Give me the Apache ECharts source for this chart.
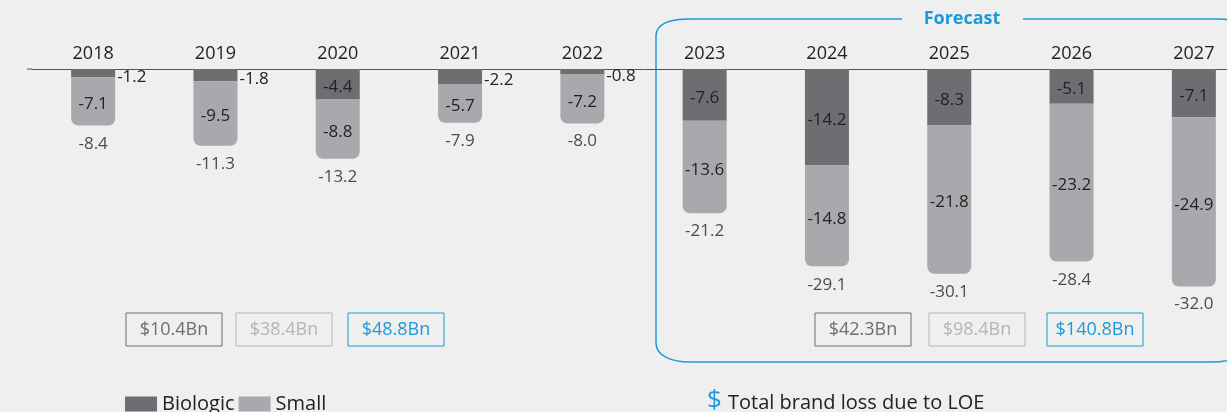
<!DOCTYPE html>
<html>
<head>
<meta charset="utf-8">
<title>Brand loss due to LOE</title>
<script src="https://cdn.jsdelivr.net/npm/echarts@6/dist/echarts.min.js"></script>
<style>
  html, body { margin: 0; padding: 0; background: #efefef; overflow: hidden; }
  /* the plot runs past the right edge of the window, as in the source image */
  #loe_chart { width: 1260px; height: 412px; }
</style>
</head>
<body>
<div id="loe_chart"></div>
<script>
// LOE brand loss by year, biologic vs small molecule ($Bn)
var years = ['2018', '2019', '2020', '2021', '2022', '2023', '2024', '2025', '2026', '2027'];
var biologic = [-1.2, -1.8, -4.4, -2.2, -0.8, -7.6, -14.2, -8.3, -5.1, -7.1];
var small = [-7.1, -9.5, -8.8, -5.7, -7.2, -13.6, -14.8, -21.8, -23.2, -24.9];
var totals = [-8.4, -11.3, -13.2, -7.9, -8.0, -21.2, -29.1, -30.1, -28.4, -32.0];
var pastSums = ['$10.4Bn', '$38.4Bn', '$48.8Bn'];
var forecastSums = ['$42.3Bn', '$98.4Bn', '$140.8Bn'];

var FONT = 'Open Sans';
var BIO = '#6d6e71';
var SMALL = '#a7a9ac';
var BLUE = '#1b9ad7';

// sum boxes: biologic / small / total
function sumBox(cx, txt, color) {
    return {
        type: 'group',
        children: [
            {
                type: 'rect',
                shape: { x: cx - 48, y: 313, width: 96, height: 33 },
                style: { fill: 'none', stroke: color, lineWidth: 1 }
            },
            {
                type: 'text',
                x: cx, y: 330,
                style: {
                    text: txt, fill: color, font: '18px ' + FONT,
                    align: 'center', verticalAlign: 'middle'
                }
            }
        ]
    };
}
var boxColors = [BIO, '#b4b5b7', BLUE];
var graphics = [];
[174, 284, 396].forEach(function (cx, i) { graphics.push(sumBox(cx, pastSums[i], boxColors[i])); });
[863, 977, 1095].forEach(function (cx, i) { graphics.push(sumBox(cx, forecastSums[i], boxColors[i])); });

// forecast frame, built from straight pieces and corner curves
var frameStyle = { fill: 'none', stroke: BLUE, lineWidth: 1.5 };
function seg(x1, y1, x2, y2) {
    return { type: 'line', shape: { x1: x1, y1: y1, x2: x2, y2: y2 }, style: frameStyle };
}
function corner(x1, y1, c1x, c1y, c2x, c2y, x2, y2) {
    return {
        type: 'bezierCurve',
        shape: { x1: x1, y1: y1, cpx1: c1x, cpy1: c1y, cpx2: c2x, cpy2: c2y, x2: x2, y2: y2 },
        style: frameStyle
    };
}
graphics.push(seg(902, 19, 690, 19));
graphics.push(corner(690, 19, 670, 19, 656, 24, 656, 36));
graphics.push(seg(656, 36, 656, 343));
graphics.push(corner(656, 343, 656, 356, 672, 362, 690, 362));
graphics.push(seg(690, 362, 1210, 362));
graphics.push(corner(1210, 362, 1235, 362, 1250, 355, 1250, 340));
graphics.push(seg(1250, 340, 1250, 40));
graphics.push(corner(1250, 40, 1250, 26, 1237, 19, 1217, 19));
graphics.push(seg(1217, 19, 1023, 19));
graphics.push({
    type: 'text', x: 962, y: 19,
    style: { text: 'Forecast', fill: BLUE, font: 'bold 18px ' + FONT, align: 'center', verticalAlign: 'middle' }
});
// axis line stub on the left
graphics.push({
    type: 'line', shape: { x1: 27, y1: 69, x2: 32, y2: 69 },
    style: { stroke: '#555', lineWidth: 1 }
});
// dollar legend note
graphics.push({
    type: 'text', x: 707, y: 401,
    style: { text: '$', fill: BLUE, font: '26px ' + FONT, verticalAlign: 'middle' }
});
graphics.push({
    type: 'text', x: 728, y: 403,
    style: { text: 'Total brand loss due to LOE', fill: '#222', font: '20px ' + FONT, verticalAlign: 'middle' }
});

var option = {
    backgroundColor: '#efefef',
    textStyle: { fontFamily: FONT },
    animation: false,
    legend: {
        data: ['Biologic', 'Small'],
        left: 120,
        top: 389,
        icon: 'rect',
        itemWidth: 32,
        itemHeight: 15,
        itemGap: 4,
        textStyle: { fontSize: 20, color: '#222', fontFamily: FONT }
    },
    grid: {
        left: 32,
        top: 69,
        width: 1223,
        height: 272
    },
    xAxis: {
        type: 'category',
        position: 'top',
        data: years,
        axisTick: { show: false },
        axisLine: { lineStyle: { color: '#555', width: 1 } },
        axisLabel: { color: '#222', fontSize: 18, margin: 6, fontFamily: FONT },
        splitLine: { show: false }
    },
    yAxis: {
        type: 'value',
        min: -40,
        max: 0,
        show: false
    },
    series: [
        {
            name: 'Biologic',
            type: 'bar',
            stack: 'loss',
            barWidth: 44,
            color: BIO,
            data: biologic.map(function (v) {
                var outside = Math.abs(v) < 3;
                return {
                    value: v,
                    label: outside
                        ? { position: 'right', distance: 2, offset: [0, 4] }
                        : { position: 'inside', offset: [0, 3] }
                };
            }),
            label: { show: true, color: '#222', fontSize: 17, fontFamily: FONT }
        },
        {
            name: 'Small',
            type: 'bar',
            stack: 'loss',
            barWidth: 44,
            color: SMALL,
            itemStyle: { borderRadius: [0, 0, 7, 7] },
            data: small,
            label: { show: true, position: 'inside', offset: [0, 3], color: '#222', fontSize: 17, fontFamily: FONT }
        },
        {
            name: 'Total',
            type: 'scatter',
            data: totals,
            symbolSize: 1,
            itemStyle: { color: 'rgba(0,0,0,0)' },
            label: {
                show: true, position: 'bottom', distance: 9,
                color: '#222', fontSize: 17, fontFamily: FONT,
                formatter: function (p) { return p.value.toFixed(1); }
            },
            silent: true
        }
    ],
    graphic: graphics
};

var myChart = echarts.init(document.getElementById('loe_chart'));
myChart.setOption(option);
</script>
</body>
</html>
